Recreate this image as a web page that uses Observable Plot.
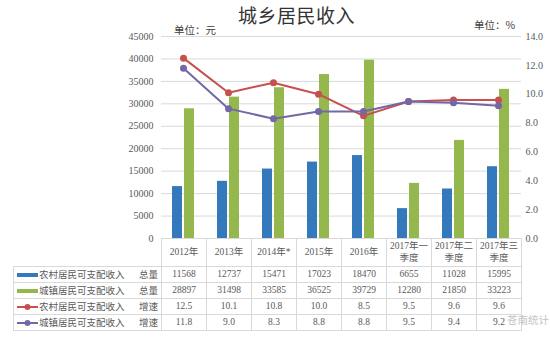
<!DOCTYPE html>
<html><head><meta charset="utf-8">
<script src="https://cdn.jsdelivr.net/npm/d3@7"></script>
<script src="https://cdn.jsdelivr.net/npm/@observablehq/plot@0.6"></script>
<style>
body{margin:0;background:#fff;}
#wrap{position:relative;width:550px;height:338px;overflow:hidden;font-family:"Liberation Serif","Noto Sans CJK SC",serif;color:#595959;}
#title{position:absolute;left:238px;top:1px;font-family:"Noto Sans CJK SC",sans-serif;font-size:19px;color:#333;letter-spacing:0.5px;}
.unit{position:absolute;font-family:"Noto Sans CJK SC",sans-serif;font-size:10.5px;color:#404040;}
#chart{position:absolute;left:0;top:0;}
#tbl{position:absolute;left:13px;top:238px;border-collapse:collapse;table-layout:fixed;font-size:9.5px;}
#tbl td{border:1px solid #d9d9d9;padding:0;text-align:center;white-space:nowrap;overflow:hidden;}
#tbl tr.head td{height:28px;border-top:none;line-height:12px;font-family:"Liberation Serif","Noto Sans CJK SC",serif;}
#tbl tr.head td.blank{border:none;border-right:1px solid #d9d9d9;}
#tbl tr.row td{height:15px;line-height:15px;}
#tbl td.leg{text-align:left;font-family:"Noto Sans CJK SC",sans-serif;font-size:9.5px;position:relative;}
#tbl td.leg svg{vertical-align:middle;margin-left:3px;margin-right:1px;}
#tbl td.leg .m{position:absolute;right:3px;top:0;}
#wm{position:absolute;left:507px;top:312px;font-family:"Noto Sans CJK SC",sans-serif;font-size:10.5px;color:#b8b8b8;opacity:0.85;}
</style></head>
<body>
<div id="wrap">
  <div id="chart"></div>
  <div id="title">城乡居民收入</div>
  <div class="unit" style="left:174px;top:22px;">单位：元</div>
  <div class="unit" style="left:474px;top:17px;">单位：%</div>
  <table id="tbl"></table>
  <div id="wm">苍南统计</div>
</div>
<script>
const categories = ["2012年","2013年","2014年*","2015年","2016年","2017年一季度","2017年二季度","2017年三季度"];
const headerLines = [["2012年"],["2013年"],["2014年*"],["2015年"],["2016年"],["2017年一","季度"],["2017年二","季度"],["2017年三","季度"]];
const ruralTotal = [11568,12737,15471,17023,18470,6655,11028,15995];
const urbanTotal = [28897,31498,33585,36525,39729,12280,21850,33223];
const ruralGrowth = [12.5,10.1,10.8,10.0,8.5,9.5,9.6,9.6];
const urbanGrowth = [11.8,9.0,8.3,8.8,8.8,9.5,9.4,9.2];
const leftTicks = [0,5000,10000,15000,20000,25000,30000,35000,40000,45000];
const rightTicks = [0,2,4,6,8,10,12,14];
const seriesNames = ["农村居民可支配收入","城镇居民可支配收入","农村居民可支配收入","城镇居民可支配收入"];
const measures = ["总量","总量","增速","增速"];
const colors = {rural:"#3479bb", urban:"#94b84d", ruralG:"#c5504e", urbanG:"#7467a6"};

const yMax = 45000, pMax = 14;
const toY = p => p * yMax / pMax;
const data = categories.map((c,i)=>({cat:c, rural:ruralTotal[i], urban:urbanTotal[i], ruralG:ruralGrowth[i], urbanG:urbanGrowth[i]}));

const chart = Plot.plot({
  width: 550, height: 250,
  marginLeft: 161, marginRight: 29, marginTop: 36, marginBottom: 12,
  style: {fontFamily: '"Liberation Serif", serif', fontSize: "10px", color: "#595959", background: "transparent"},
  x: {domain: categories, paddingInner: 0.511, paddingOuter: 0.2555, axis: null},
  y: {domain: [0, yMax], axis: null},
  marks: [
    Plot.gridY(leftTicks, {stroke: "#d9d9d9", strokeOpacity: 1}),
    Plot.axisY(leftTicks, {anchor: "left", tickSize: 0, tickPadding: 8, tickFormat: d => String(d), fill: "#595959"}),
    Plot.axisY(rightTicks.map(toY), {anchor: "right", tickSize: 0, tickPadding: 4, tickFormat: d => (d * pMax / yMax).toFixed(1), fill: "#595959"}),
    Plot.barY(data, {x: "cat", y: "rural", fill: colors.rural, insetRight: 12}),
    Plot.barY(data, {x: "cat", y: "urban", fill: colors.urban, insetLeft: 12}),
    Plot.ruleY([0], {stroke: "#d9d9d9"}),
    Plot.line(data, {x: "cat", y: d => toY(d.ruralG), stroke: colors.ruralG, strokeWidth: 2}),
    Plot.dot(data, {x: "cat", y: d => toY(d.ruralG), fill: colors.ruralG, r: 3.5}),
    Plot.line(data, {x: "cat", y: d => toY(d.urbanG), stroke: colors.urbanG, strokeWidth: 2}),
    Plot.dot(data, {x: "cat", y: d => toY(d.urbanG), fill: colors.urbanG, r: 3.5})
  ]
});
document.getElementById("chart").appendChild(chart);

// data table with legend
const tbl = document.getElementById("tbl");
const colgroup = document.createElement("colgroup");
[148, ...categories.map(()=>45)].forEach(w => { const c = document.createElement("col"); c.style.width = w + "px"; colgroup.appendChild(c); });
tbl.appendChild(colgroup);
const head = document.createElement("tr"); head.className = "head";
const blank = document.createElement("td"); blank.className = "blank"; head.appendChild(blank);
headerLines.forEach(lines => { const td = document.createElement("td"); td.innerHTML = lines.join("<br>"); head.appendChild(td); });
tbl.appendChild(head);
const rows = [ruralTotal, urbanTotal, ruralGrowth, urbanGrowth];
const rowColors = [colors.rural, colors.urban, colors.ruralG, colors.urbanG];
rows.forEach((vals, r) => {
  const tr = document.createElement("tr"); tr.className = "row";
  const leg = document.createElement("td"); leg.className = "leg";
  const sw = r < 2
    ? `<svg width="21" height="8"><rect x="0" y="2" width="21" height="4" fill="${rowColors[r]}"/></svg>`
    : `<svg width="21" height="8"><line x1="0" y1="4" x2="21" y2="4" stroke="${rowColors[r]}" stroke-width="2"/><circle cx="10.5" cy="4" r="3" fill="${rowColors[r]}"/></svg>`;
  leg.innerHTML = sw + seriesNames[r] + `<span class="m">${measures[r]}</span>`;
  tr.appendChild(leg);
  vals.forEach(v => { const td = document.createElement("td"); td.textContent = r < 2 ? String(v) : v.toFixed(1); tr.appendChild(td); });
  tbl.appendChild(tr);
});
</script>
</body></html>
